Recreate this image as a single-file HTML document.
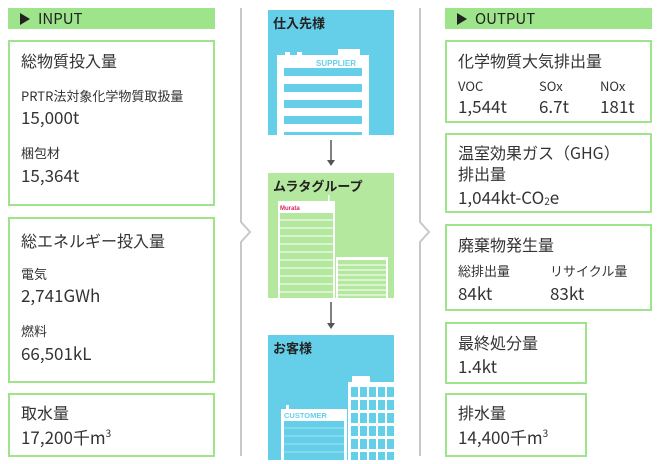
<!DOCTYPE html>
<html><head><meta charset="utf-8"><style>
*{margin:0;padding:0;box-sizing:border-box}
body{width:660px;height:464px;background:#fff;position:relative;overflow:hidden;font-family:"Noto Sans CJK JP","Liberation Sans",sans-serif;color:#333}
.a{position:absolute}
.hd{background:#9de48a;font-size:15px;line-height:21px;padding-left:12px;color:#222}
.tri{display:inline-block;width:0;height:0;border-left:10px solid #222;border-top:6px solid transparent;border-bottom:6px solid transparent;margin-right:8px;vertical-align:-1px}
.bx{border:2px solid #9de48a;background:#fff}
.t{font-size:16px;line-height:19px;position:absolute;white-space:nowrap}
.s{font-size:13px;line-height:16px;position:absolute;white-space:nowrap}
.v{font-size:17px;line-height:20px;position:absolute;white-space:nowrap}
sup{font-size:10px;line-height:0;vertical-align:7px}
sub{font-size:10px;line-height:0;vertical-align:-1px}
</style></head><body>
<div class="a hd" style="left:8px;top:8px;width:207px;height:21px"><span class="tri"></span>INPUT</div>
<div class="a bx" style="left:8px;top:40px;width:207px;height:166px">
<div class="t" style="left:11px;top:9px">総物質投入量</div>
<div class="s" style="left:11px;top:46px">PRTR法対象化学物質取扱量</div>
<div class="v" style="left:11px;top:65px">15,000t</div>
<div class="s" style="left:11px;top:103px">梱包材</div>
<div class="v" style="left:11px;top:123px">15,364t</div>
</div>
<div class="a bx" style="left:8px;top:217px;width:207px;height:166px">
<div class="t" style="left:11px;top:12px">総エネルギー投入量</div>
<div class="s" style="left:11px;top:47px">電気</div>
<div class="v" style="left:11px;top:66px">2,741GWh</div>
<div class="s" style="left:11px;top:104px">燃料</div>
<div class="v" style="left:11px;top:124px">66,501kL</div>
</div>
<div class="a bx" style="left:8px;top:393px;width:207px;height:64px">
<div class="t" style="left:11px;top:8px">取水量</div>
<div class="v" style="left:11px;top:32px">17,200千m<sup>3</sup></div>
</div>

<svg class="a" style="left:0;top:0" width="660" height="464">
<polyline points="241,8 241,222 250,232 241,242 241,456" fill="none" stroke="#c8c8c8" stroke-width="2"/>
<polyline points="420,8 420,222 429,232 420,242 420,456" fill="none" stroke="#c8c8c8" stroke-width="2"/>
<rect x="268" y="10" width="126" height="125" fill="#65cfe9"/>
<rect x="277" y="55" width="92" height="80" fill="#fff"/>
<rect x="285" y="52" width="5" height="4" fill="#fff"/><rect x="297" y="52" width="5" height="4" fill="#fff"/>
<rect x="338" y="49" width="22" height="8" fill="#fff"/>
<text x="316" y="66" font-size="8" font-weight="bold" fill="#65cfe9" font-family="Liberation Sans">SUPPLIER</text>
<g fill="#65cfe9"><rect x="284" y="68" width="78" height="8"/><rect x="284" y="84" width="78" height="8"/><rect x="284" y="100" width="78" height="8"/><rect x="284" y="116" width="78" height="8"/><rect x="284" y="132" width="78" height="3"/></g>
<line x1="331" y1="140" x2="331" y2="160" stroke="#555" stroke-width="1.5"/><polygon points="327,160 335,160 331,166" fill="#555"/>
<rect x="268" y="173" width="126" height="125" fill="#b3e89e"/>
<rect x="278" y="201" width="57" height="97" fill="#fff"/>
<rect x="328" y="195" width="1.5" height="7" fill="#fff"/>
<text x="280" y="210" font-size="6" font-weight="bold" fill="#e0245e" font-family="Liberation Sans">Murata</text>
<rect x="280" y="213" width="53" height="85" fill="#b3e89e"/>
<g stroke="#fff" stroke-width="1"><line x1="280" y1="220" x2="333" y2="220"/><line x1="280" y1="228" x2="333" y2="228"/><line x1="280" y1="236" x2="333" y2="236"/><line x1="280" y1="244" x2="333" y2="244"/><line x1="280" y1="252" x2="333" y2="252"/><line x1="280" y1="260" x2="333" y2="260"/><line x1="280" y1="268" x2="333" y2="268"/><line x1="280" y1="276" x2="333" y2="276"/><line x1="280" y1="284" x2="333" y2="284"/><line x1="280" y1="292" x2="333" y2="292"/></g>
<rect x="336" y="257" width="52" height="41" fill="#fff"/>
<rect x="338" y="260" width="48" height="38" fill="#b3e89e"/>
<g stroke="#fff" stroke-width="1"><line x1="338" y1="265" x2="386" y2="265"/><line x1="338" y1="270" x2="386" y2="270"/><line x1="338" y1="275" x2="386" y2="275"/><line x1="338" y1="280" x2="386" y2="280"/><line x1="338" y1="285" x2="386" y2="285"/><line x1="338" y1="290" x2="386" y2="290"/><line x1="338" y1="295" x2="386" y2="295"/></g>
<line x1="331" y1="302" x2="331" y2="323" stroke="#555" stroke-width="1.5"/><polygon points="327,323 335,323 331,329" fill="#555"/>
<rect x="268" y="335" width="126" height="125" fill="#65cfe9"/>
<rect x="348" y="382" width="46" height="78" fill="#fff"/>
<rect x="352" y="376" width="18" height="7" fill="#fff"/>
<g fill="#65cfe9"><rect x="351" y="387" width="7" height="10"/><rect x="360" y="387" width="7" height="10"/><rect x="369" y="387" width="7" height="10"/><rect x="378" y="387" width="7" height="10"/><rect x="387" y="387" width="7" height="10"/>
<rect x="351" y="400" width="7" height="10"/><rect x="360" y="400" width="7" height="10"/><rect x="369" y="400" width="7" height="10"/><rect x="378" y="400" width="7" height="10"/><rect x="387" y="400" width="7" height="10"/>
<rect x="351" y="413" width="7" height="10"/><rect x="360" y="413" width="7" height="10"/><rect x="369" y="413" width="7" height="10"/><rect x="378" y="413" width="7" height="10"/><rect x="387" y="413" width="7" height="10"/>
<rect x="351" y="426" width="7" height="10"/><rect x="360" y="426" width="7" height="10"/><rect x="369" y="426" width="7" height="10"/><rect x="378" y="426" width="7" height="10"/><rect x="387" y="426" width="7" height="10"/>
<rect x="351" y="439" width="7" height="10"/><rect x="360" y="439" width="7" height="10"/><rect x="369" y="439" width="7" height="10"/><rect x="378" y="439" width="7" height="10"/><rect x="387" y="439" width="7" height="10"/>
<rect x="351" y="452" width="7" height="8"/><rect x="360" y="452" width="7" height="8"/><rect x="369" y="452" width="7" height="8"/><rect x="378" y="452" width="7" height="8"/><rect x="387" y="452" width="7" height="8"/></g>
<rect x="281" y="409" width="66" height="51" fill="#fff"/>
<rect x="286" y="405" width="3" height="5" fill="#fff"/>
<text x="284" y="418" font-size="7.5" font-weight="bold" fill="#65cfe9" font-family="Liberation Sans">CUSTOMER</text>
<rect x="284" y="421" width="60" height="39" fill="#65cfe9"/>
<g stroke="#9fe0f0" stroke-width="1"><line x1="284" y1="428" x2="344" y2="428"/><line x1="284" y1="436" x2="344" y2="436"/><line x1="284" y1="444" x2="344" y2="444"/><line x1="284" y1="452" x2="344" y2="452"/></g>
<g font-family="Noto Sans CJK JP,sans-serif" font-size="13" font-weight="bold" fill="#222">
<text x="273" y="28">仕入先様</text><text x="273" y="191">ムラタグループ</text><text x="273" y="353">お客様</text></g>
</svg>

<div class="a hd" style="left:445px;top:8px;width:207px;height:21px"><span class="tri"></span>OUTPUT</div>
<div class="a bx" style="left:445px;top:40px;width:207px;height:83px">
<div class="t" style="left:11px;top:9px">化学物質大気排出量</div>
<div class="s" style="left:11px;top:36px">VOC</div><div class="v" style="left:11px;top:54px">1,544t</div>
<div class="s" style="left:92px;top:36px">SOx</div><div class="v" style="left:92px;top:54px">6.7t</div>
<div class="s" style="left:153px;top:36px">NOx</div><div class="v" style="left:153px;top:54px">181t</div>
</div>
<div class="a bx" style="left:445px;top:133px;width:207px;height:80px">
<div class="t" style="left:11px;top:8px">温室効果ガス（GHG）</div>
<div class="t" style="left:11px;top:29px">排出量</div>
<div class="v" style="left:11px;top:52px">1,044kt-CO<sub>2</sub>e</div>
</div>
<div class="a bx" style="left:445px;top:224px;width:207px;height:87px">
<div class="t" style="left:11px;top:9px">廃棄物発生量</div>
<div class="s" style="left:11px;top:37px">総排出量</div><div class="v" style="left:11px;top:57px">84kt</div>
<div class="s" style="left:103px;top:37px">リサイクル量</div><div class="v" style="left:103px;top:57px">83kt</div>
</div>
<div class="a bx" style="left:445px;top:322px;width:142px;height:62px">
<div class="t" style="left:11px;top:9px">最終処分量</div>
<div class="v" style="left:11px;top:32px">1.4kt</div>
</div>
<div class="a bx" style="left:445px;top:393px;width:142px;height:64px">
<div class="t" style="left:11px;top:8px">排水量</div>
<div class="v" style="left:11px;top:32px">14,400千m<sup>3</sup></div>
</div>
</body></html>
